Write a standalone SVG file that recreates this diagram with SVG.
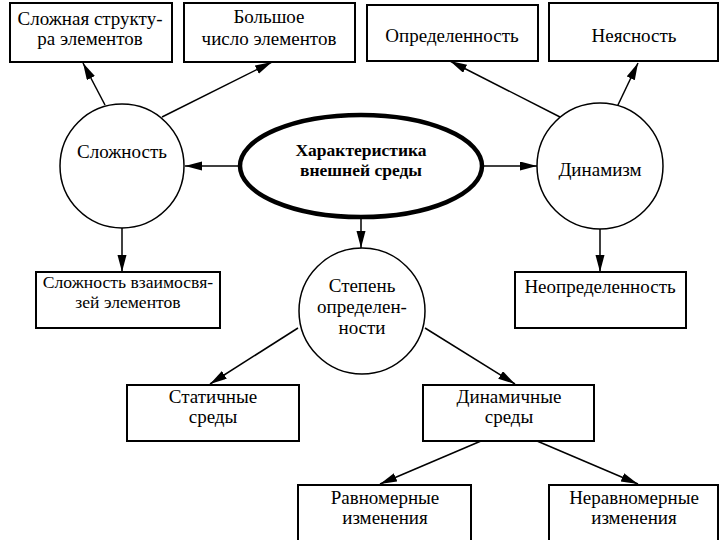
<svg xmlns="http://www.w3.org/2000/svg" width="720" height="540" viewBox="0 0 720 540">
<style>
.box{fill:#fff;stroke:#000;stroke-width:2}
.circ{fill:#fff;stroke:#000;stroke-width:1.5}
.ell{fill:#fff;stroke:#000;stroke-width:4.5}
.t{font-family:'Liberation Serif','DejaVu Serif',serif;font-size:19px;fill:#000;text-anchor:middle}
.b{font-weight:bold;font-size:17.5px}
.s{font-size:17.6px}
.c line{stroke:#000;stroke-width:1.5;marker-end:url(#ah)}
</style>
<defs>
<marker id="ah" markerUnits="userSpaceOnUse" markerWidth="18" markerHeight="10" refX="17" refY="4.5" orient="auto">
<path d="M0,0 L17,4.5 L0,9 Z" fill="#000"/>
</marker>
</defs>
<rect width="720" height="540" fill="#fff"/>
<g class="c" id="connectors">
<line x1="105" y1="105" x2="83" y2="63"/>
<line x1="162" y1="117" x2="272" y2="62"/>
<line x1="560" y1="117" x2="450" y2="61"/>
<line x1="617" y1="107" x2="638" y2="63"/>
<line x1="240" y1="166" x2="185" y2="166"/>
<line x1="482" y1="166" x2="537" y2="166"/>
<line x1="361" y1="218" x2="361" y2="248"/>
<line x1="122" y1="228" x2="122" y2="272"/>
<line x1="600" y1="229" x2="600" y2="272"/>
<line x1="298" y1="328" x2="210" y2="384"/>
<line x1="425" y1="328" x2="515" y2="384"/>
<line x1="481" y1="441" x2="380" y2="484"/>
<line x1="537" y1="441" x2="638" y2="484"/>
</g>
<g id="n-struct"><rect class="box" x="10" y="3" width="162" height="59"/>
<text class="t" x="90" y="25">Сложная структу-</text><text class="t" x="90" y="45">ра элементов</text></g>
<g id="n-count"><rect class="box" x="184" y="3" width="171" height="59"/>
<text class="t" x="269" y="23">Большое</text><text class="t" x="269" y="45">число элементов</text></g>
<g id="n-opred"><rect class="box" x="367" y="5" width="171" height="56"/>
<text class="t" x="452" y="42">Определенность</text></g>
<g id="n-neyas"><rect class="box" x="549" y="3" width="169" height="58"/>
<text class="t" x="634" y="42">Неясность</text></g>
<g id="n-slozh"><circle class="circ" cx="122" cy="166" r="62"/>
<text class="t" x="122" y="158">Сложность</text></g>
<g id="n-main"><ellipse class="ell" cx="361" cy="166" rx="121" ry="51"/>
<text class="t b" x="361" y="156">Характеристика</text><text class="t b" x="361" y="176">внешней среды</text></g>
<g id="n-dyn"><circle class="circ" cx="600" cy="166" r="63"/>
<text class="t" x="600" y="176">Динамизм</text></g>
<g id="n-vzaim"><rect class="box" x="36" y="272" width="184" height="56"/>
<text class="t s" x="128" y="288">Сложность взаимосвя-</text><text class="t s" x="128" y="308">зей элементов</text></g>
<g id="n-neopr"><rect class="box" x="515" y="272" width="171" height="56"/>
<text class="t" x="600" y="293">Неопределенность</text></g>
<g id="n-stepen"><circle class="circ" cx="362" cy="311" r="63"/>
<text class="t" x="362" y="292">Степень</text><text class="t" x="362" y="313">определен-</text><text class="t" x="362" y="334">ности</text></g>
<g id="n-static"><rect class="box" x="127" y="385" width="172" height="56"/>
<text class="t" x="213" y="403">Статичные</text><text class="t" x="213" y="423">среды</text></g>
<g id="n-dynenv"><rect class="box" x="423" y="385" width="171" height="56"/>
<text class="t" x="509" y="403">Динамичные</text><text class="t" x="509" y="423">среды</text></g>
<g id="n-ravn"><rect class="box" x="298" y="485" width="173" height="60"/>
<text class="t" x="385" y="504">Равномерные</text><text class="t" x="385" y="524">изменения</text></g>
<g id="n-neravn"><rect class="box" x="549" y="485" width="169" height="60"/>
<text class="t" x="634" y="504">Неравномерные</text><text class="t" x="634" y="524">изменения</text></g>
</svg>
